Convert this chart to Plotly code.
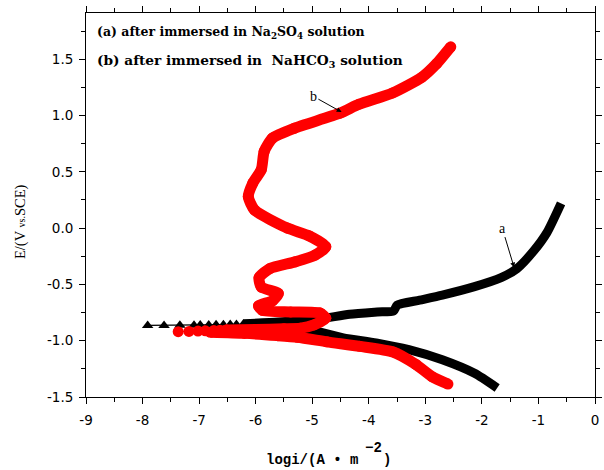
import plotly.graph_objects as go

# ---------------- data ----------------
# Curve (a): after immersed in Na2SO4 solution (black, triangles)
a_cath_logi = [-1.73, -2.13, -2.70, -3.29, -3.87, -4.45, -5.03, -5.60, -6.22]
a_cath_E = [-1.42, -1.29, -1.17, -1.08, -1.02, -0.975, -0.905, -0.88, -0.862]
a_sparse_logi = [-7.91, -7.62, -7.34, -7.09, -6.98, -6.83, -6.70, -6.57, -6.45, -6.34, -6.22]
a_sparse_E = [-0.864, -0.864, -0.863, -0.862, -0.861, -0.860, -0.859, -0.858, -0.857, -0.856, -0.855]
a_anod_logi = [-6.22, -5.60, -4.91, -4.34, -3.85, -3.56, -3.50, -3.10, -2.70, -2.13, -1.66,
               -1.38, -1.08, -0.85, -0.60]
a_anod_E = [-0.850, -0.835, -0.81, -0.765, -0.745, -0.735, -0.685, -0.64, -0.595, -0.52, -0.44,
            -0.36, -0.20, -0.04, 0.22]

# Curve (b): after immersed in NaHCO3 solution (red, circles)
b_cath_logi = [-2.60, -2.88, -3.17, -3.57, -4.16, -4.74, -5.26, -5.61, -6.20, -6.80]
b_cath_E = [-1.385, -1.32, -1.21, -1.10, -1.05, -1.01, -0.97, -0.955, -0.935, -0.925]
b_sparse_logi = [-7.37, -7.18, -7.02, -6.89, -6.74, -6.63, -6.52]
b_sparse_E = [-0.92, -0.918, -0.915, -0.912, -0.91, -0.907, -0.905]
b_anod_logi = [-6.52, -6.00, -5.50, -5.21, -4.97, -4.76, -4.86, -5.38, -5.88, -5.95, -5.70,
               -5.60, -5.90, -5.94, -5.75, -5.30, -4.95, -4.76, -5.05, -5.44, -6.02, -6.13,
               -6.05, -5.90, -5.85, -5.70, -5.32, -4.51, -4.17, -3.58, -3.06, -2.80, -2.55]
b_anod_E = [-0.905, -0.90, -0.895, -0.89, -0.86, -0.80, -0.755, -0.745, -0.73, -0.69, -0.645,
            -0.58, -0.525, -0.44, -0.36, -0.30, -0.24, -0.165, -0.07, 0.0, 0.16, 0.28,
            0.40, 0.52, 0.68, 0.80, 0.886, 1.02, 1.10, 1.20, 1.34, 1.46, 1.61]

x_tick_vals = [-9, -8, -7, -6, -5, -4, -3, -2, -1, 0]
x_tick_text = ["-9", "-8", "-7", "-6", "-5", "-4", "-3", "-2", "-1", "0"]
y_tick_vals = [-1.5, -1.0, -0.5, 0.0, 0.5, 1.0, 1.5]
y_tick_text = ["-1.5", "-1.0", "-0.5", "0.0", "0.5", "1.0", "1.5"]

label_a = "a"
label_b = "b"
legend_a = "<b>(a) after immersed in Na<sub>2</sub>SO<sub>4</sub> solution</b>"
legend_b = "<b>(b) after immersed in&nbsp;&nbsp;NaHCO<sub>3</sub> solution</b>"

# ---------------- figure ----------------
fig = go.Figure()

BLACK = "#000000"
RED = "#ff0000"

fig.add_trace(go.Scatter(x=a_cath_logi, y=a_cath_E, mode="lines",
                         line=dict(color=BLACK, width=9, shape="spline", smoothing=0.6)))
fig.add_trace(go.Scatter(x=a_anod_logi, y=a_anod_E, mode="lines",
                         line=dict(color=BLACK, width=9, shape="spline", smoothing=0.6)))
fig.add_trace(go.Scatter(x=a_sparse_logi, y=a_sparse_E, mode="lines+markers",
                         line=dict(color=BLACK, width=1.2),
                         marker=dict(symbol="triangle-up", size=10, color=BLACK)))

fig.add_trace(go.Scatter(x=b_cath_logi, y=b_cath_E, mode="lines+markers",
                         line=dict(color=RED, width=11, shape="spline", smoothing=0.6),
                         marker=dict(symbol="circle", size=11, color=RED)))
fig.add_trace(go.Scatter(x=b_anod_logi, y=b_anod_E, mode="lines+markers",
                         line=dict(color=RED, width=11, shape="spline", smoothing=0.6),
                         marker=dict(symbol="circle", size=11, color=RED)))
fig.add_trace(go.Scatter(x=b_sparse_logi, y=b_sparse_E, mode="lines+markers",
                         line=dict(color=RED, width=1.2),
                         marker=dict(symbol="circle", size=11, color=RED)))

tick_font = dict(family="DejaVu Sans", size=13.5, color="black")
axis_common = dict(showline=True, linecolor="black", linewidth=1, mirror="ticks",
                   ticks="outside", ticklen=6, tickwidth=1, tickcolor="black",
                   showgrid=False, zeroline=False, tickfont=tick_font)

fig.update_xaxes(range=[-9, 0], tickmode="array", tickvals=x_tick_vals, ticktext=x_tick_text,
                 minor=dict(ticks="outside", dtick=0.5, ticklen=4, tickcolor="black"),
                 ticklabelstandoff=5, **axis_common)
fig.update_yaxes(range=[-1.5, 1.91], tickmode="array", tickvals=y_tick_vals, ticktext=y_tick_text,
                 minor=dict(ticks="outside", dtick=0.25, ticklen=4, tickcolor="black"),
                 ticklabelstandoff=3, **axis_common)

serif = "Liberation Serif, Times New Roman, serif"
wide_serif = "DejaVu Serif, serif"
mono = "Liberation Mono, Courier New, monospace"

annotations = [
    dict(text=legend_a, xref="paper", yref="paper", x=0.0174, y=0.9505,
         xanchor="left", yanchor="middle", showarrow=False,
         font=dict(family=wide_serif, size=12.5, color="black")),
    dict(text=legend_b, xref="paper", yref="paper", x=0.0174, y=0.875,
         xanchor="left", yanchor="middle", showarrow=False,
         font=dict(family=wide_serif, size=13.7, color="black")),
    dict(text=label_a, x=-1.43, y=-0.35, ax=-1.64, ay=0.0, xref="x", yref="y",
         axref="x", ayref="y", showarrow=True, arrowhead=2, arrowsize=1, arrowwidth=1,
         arrowcolor="black", standoff=0, font=dict(family=serif, size=14, color="black")),
    dict(text=label_b, x=-4.48, y=1.03, ax=-4.98, ay=1.17, xref="x", yref="y",
         axref="x", ayref="y", showarrow=True, arrowhead=2, arrowsize=1, arrowwidth=1,
         arrowcolor="black", standoff=0, font=dict(family=serif, size=14, color="black")),
    dict(text="E/(V <span style='font-size:10px'>vs.</span>SCE)", xref="paper", yref="paper",
         x=-0.1298, y=0.458, textangle=-90, showarrow=False,
         xanchor="center", yanchor="middle",
         font=dict(family=serif, size=14.5, color="black")),
    dict(text="<b>logi/(A • m</b>", xref="paper", yref="paper", x=0.4448, y=-0.164,
         xanchor="center", yanchor="middle", showarrow=False,
         font=dict(family=mono, size=14, color="black")),
    dict(text="<b>−2</b>", xref="paper", yref="paper", x=0.564, y=-0.133,
         xanchor="center", yanchor="middle", showarrow=False,
         font=dict(family=mono, size=14, color="black")),
    dict(text="<b>)</b>", xref="paper", yref="paper", x=0.591, y=-0.164,
         xanchor="center", yanchor="middle", showarrow=False,
         font=dict(family=mono, size=14, color="black")),
]

fig.update_layout(
    width=604, height=470,
    margin=dict(l=86, r=2, t=13, b=73),
    paper_bgcolor="white", plot_bgcolor="white",
    showlegend=False,
    hovermode=False,
    annotations=annotations,
)

fig.write_html("out.html", config={"displayModeBar": False},
               post_script="document.body.style.margin='0';document.body.style.overflow='hidden';")
